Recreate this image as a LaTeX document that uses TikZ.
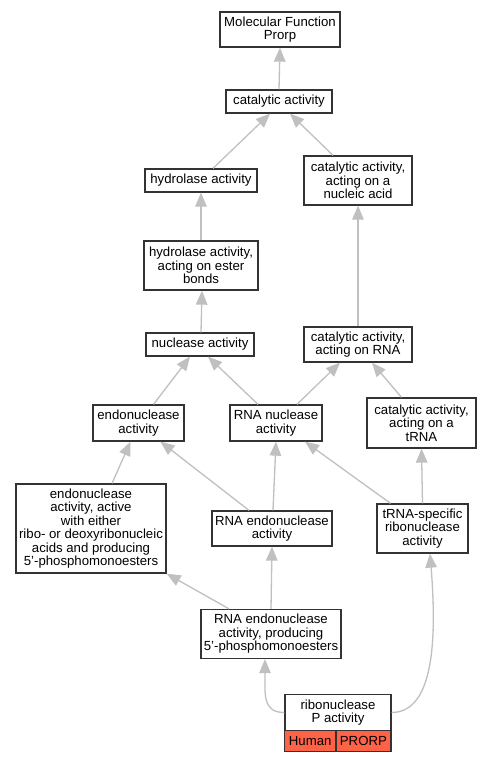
\documentclass[tikz,border=0pt]{standalone}
\usepackage{fontspec}
\setmainfont{Liberation Sans}
\usetikzlibrary{arrows.meta}
\definecolor{edgegray}{RGB}{192,192,192}
\definecolor{boxline}{RGB}{51,51,51}
\definecolor{tomatocell}{RGB}{255,99,71}
\begin{document}
\begin{tikzpicture}[x=1pt,y=-1pt,
  term/.style={draw=boxline,line width=1.3pt,fill=white,inner sep=0pt,align=center,
    font=\fontsize{13.2}{13.5}\selectfont},
  cell/.style={draw=boxline,line width=1.3pt,fill=tomatocell,inner sep=0pt,align=center,
    font=\fontsize{13.2}{13.5}\selectfont},
  isa/.style={draw=edgegray,line width=1.3pt,-{Triangle[length=14pt,width=11.5pt]}}]
\useasboundingbox (0,0) rectangle (492,763);
\fill[white] (0,0) rectangle (492,763);
% nodes
\node[term,minimum width=120,minimum height=35] (mf) at (280,29.5) {Molecular Function\\Prorp};
\node[term,minimum width=106,minimum height=23] (cat) at (279,101.5) {catalytic activity};
\node[term,minimum width=112,minimum height=23] (hyd) at (201,180.5) {hydrolase activity};
\node[term,minimum width=108,minimum height=49] (nuc) at (358,180.5) {catalytic activity,\\acting on a\\nucleic acid};
\node[term,minimum width=114,minimum height=49] (est) at (201,265.5) {hydrolase activity,\\acting on ester\\bonds};
\node[term,minimum width=108,minimum height=23] (nuclease) at (200,344.5) {nuclease activity};
\node[term,minimum width=108,minimum height=35] (onrna) at (358,344.5) {catalytic activity,\\acting on RNA};
\node[term,minimum width=91,minimum height=36] (endo) at (138.5,423) {endonuclease\\activity};
\node[term,minimum width=92,minimum height=36] (rnanuc) at (276,423) {RNA nuclease\\activity};
\node[term,minimum width=109,minimum height=50] (ontrna) at (421.5,423) {catalytic activity,\\acting on a\\tRNA};
\node[term,minimum width=150,minimum height=89] (endoact) at (91,528.5) {endonuclease\\activity, active\\with either\\ribo- or deoxyribonucleic\\acids and producing\\5'-phosphomonoesters};
\node[term,minimum width=120,minimum height=35] (rnaendo) at (272,528.5) {RNA endonuclease\\activity};
\node[term,minimum width=91,minimum height=49] (trnaspec) at (422.5,528.5) {tRNA-specific\\ribonuclease\\activity};
\node[term,minimum width=140,minimum height=49] (prod) at (271,634) {RNA endonuclease\\activity, producing\\5'-phosphomonoesters};
\node[term,minimum width=106,minimum height=36.5] (rnp) at (338,712.5) {ribonuclease\\P activity};
\node[cell,minimum width=51,minimum height=21] (human) at (310.2,741.2) {Human};
\node[cell,minimum width=55,minimum height=21] (prorp) at (363.4,741.2) {PRORP};
% edges
\draw[isa] (cat.north) -- (mf.south);
\draw[isa] ([xshift=12pt]hyd.north) -- ([xshift=-9pt]cat.south);
\draw[isa] ([xshift=-25pt]nuc.north) -- ([xshift=11pt]cat.south);
\draw[isa] (est.north) -- (hyd.south);
\draw[isa] (onrna.north) -- (nuc.south);
\draw[isa] ([xshift=1pt]nuclease.north) -- ([xshift=1pt]est.south);
\draw[isa] ([xshift=15pt]endo.north) -- ([xshift=-10pt]nuclease.south);
\draw[isa] ([xshift=-18pt]rnanuc.north) -- ([xshift=8pt]nuclease.south);
\draw[isa] ([xshift=21pt]rnanuc.north) -- ([xshift=-18pt]onrna.south);
\draw[isa] ([xshift=-20pt]ontrna.north) -- ([xshift=14pt]onrna.south);
\draw[isa] ([xshift=21pt]endoact.north) -- ([xshift=-8pt]endo.south);
\draw[isa] ([xshift=-23pt]rnaendo.north) -- ([xshift=22pt]endo.south);
\draw[isa] ([xshift=1pt]rnaendo.north) -- (rnanuc.south);
\draw[isa] ([xshift=-32pt]trnaspec.north) -- ([xshift=29pt]rnanuc.south);
\draw[isa] (trnaspec.north) -- (ontrna.south);
\draw[isa] ([xshift=-42pt]prod.north) -- (endoact.south east);
\draw[isa] (prod.north) -- (rnaendo.south);
\draw[isa] (rnp.west) .. controls +(-22,0) and +(0,35) .. ([xshift=-6pt]prod.south);
\draw[isa] (rnp.east) .. controls +(45,0) and +(6,75) .. ([xshift=7.5pt]trnaspec.south);
\end{tikzpicture}
\end{document}
